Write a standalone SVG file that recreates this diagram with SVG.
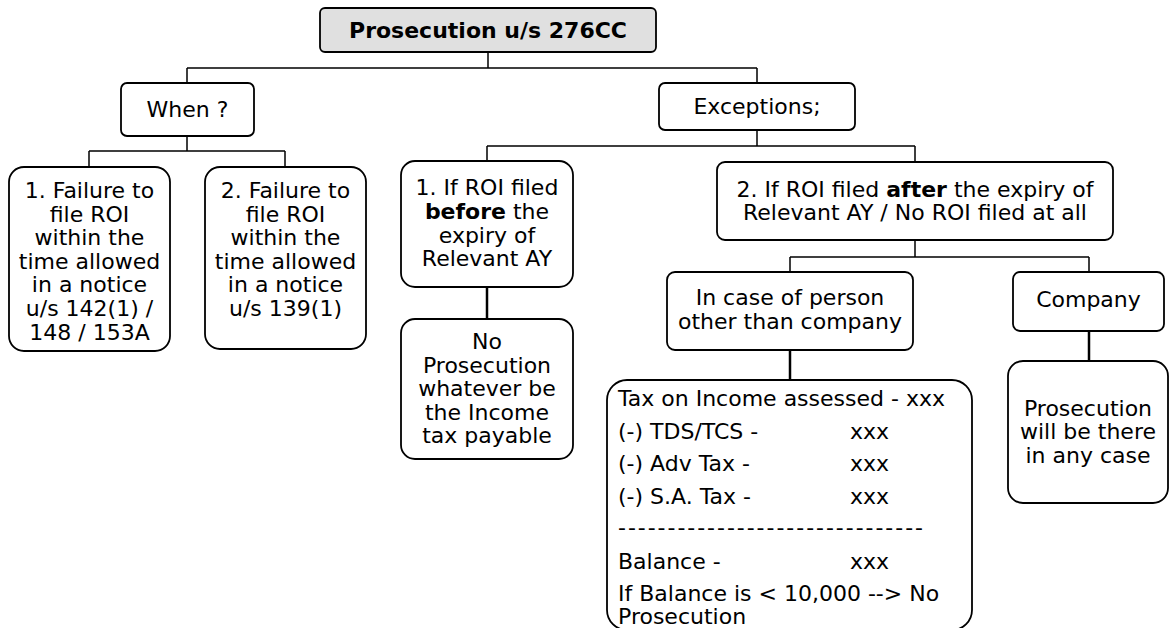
<svg xmlns="http://www.w3.org/2000/svg" width="1170" height="628" viewBox="0 0 1170 628">
<style>
.box{fill:#fff;stroke:#000;stroke-width:1.8}
.root{fill:#e0e0e0;stroke:#000;stroke-width:1.8}
.t{font-family:"DejaVu Sans",Verdana,sans-serif;font-size:22px;fill:#000;text-anchor:middle}
.l{font-family:"DejaVu Sans",Verdana,sans-serif;font-size:22px;fill:#000}
.b{font-weight:bold}
.c{fill:none;stroke:#000;stroke-width:1.5}
.ck{fill:none;stroke:#000;stroke-width:2.5}
</style>
<rect width="1170" height="628" fill="#fff"/>
<g id="connectors">
<path class="c" d="M488 52V68M187 68H757M187 68V83M757 68V83"/>
<path class="c" d="M187 136V151M89 151H285M89 151V167M285 151V167"/>
<path class="c" d="M757 130V146M487 146H915M487 146V161M915 146V162"/>
<path class="ck" d="M487 287V319"/>
<path class="c" d="M915 240V257M790 257H1089M790 257V272M1089 257V272"/>
<path class="ck" d="M790 350V380"/>
<path class="ck" d="M1089 331V361"/>
</g>
<g id="root">
<rect class="root" x="320" y="8" width="336" height="44" rx="5"/>
<text class="t b" x="488" y="38">Prosecution u/s 276CC</text>
</g>
<g id="when">
<rect class="box" x="121" y="83" width="133" height="53" rx="6"/>
<text class="t" x="187.5" y="117">When ?</text>
</g>
<g id="failure1">
<rect class="box" x="9" y="167" width="161" height="184" rx="15"/>
<text class="t" x="89.5" y="198">1. Failure to</text>
<text class="t" x="89.5" y="221.6">file ROI</text>
<text class="t" x="89.5" y="245.2">within the</text>
<text class="t" x="89.5" y="268.8">time allowed</text>
<text class="t" x="89.5" y="292.4">in a notice</text>
<text class="t" x="89.5" y="316">u/s 142(1) /</text>
<text class="t" x="89.5" y="339.6">148 / 153A</text>
</g>
<g id="failure2">
<rect class="box" x="205" y="167" width="161" height="182" rx="15"/>
<text class="t" x="285.5" y="198">2. Failure to</text>
<text class="t" x="285.5" y="221.6">file ROI</text>
<text class="t" x="285.5" y="245.2">within the</text>
<text class="t" x="285.5" y="268.8">time allowed</text>
<text class="t" x="285.5" y="292.4">in a notice</text>
<text class="t" x="285.5" y="316">u/s 139(1)</text>
</g>
<g id="exceptions">
<rect class="box" x="659" y="83" width="196" height="47" rx="6"/>
<text class="t" x="757" y="114">Exceptions;</text>
</g>
<g id="before">
<rect class="box" x="401" y="161" width="172" height="126" rx="14"/>
<text class="t" x="487" y="195">1. If ROI filed</text>
<text class="t" x="487" y="219"><tspan class="b">before</tspan> the</text>
<text class="t" x="487" y="242.6">expiry of</text>
<text class="t" x="487" y="266.2">Relevant AY</text>
</g>
<g id="noprosecution">
<rect class="box" x="401" y="319" width="172" height="140" rx="14"/>
<text class="t" x="487" y="349">No</text>
<text class="t" x="487" y="372.6">Prosecution</text>
<text class="t" x="487" y="396.2">whatever be</text>
<text class="t" x="487" y="419.8">the Income</text>
<text class="t" x="487" y="443.4">tax payable</text>
</g>
<g id="after">
<rect class="box" x="717" y="162" width="396" height="78" rx="8"/>
<text class="t" x="915" y="196.7">2. If ROI filed <tspan class="b">after</tspan> the expiry of</text>
<text class="t" x="915" y="220.3">Relevant AY / No ROI filed at all</text>
</g>
<g id="person">
<rect class="box" x="667" y="272" width="246" height="78" rx="8"/>
<text class="t" x="790" y="305">In case of person</text>
<text class="t" x="790" y="328.6">other than company</text>
</g>
<g id="company">
<rect class="box" x="1013" y="272" width="151" height="59" rx="7"/>
<text class="t" x="1088.5" y="306.5">Company</text>
</g>
<g id="companyprosecution">
<rect class="box" x="1008" y="361" width="160" height="142" rx="15"/>
<text class="t" x="1088" y="416">Prosecution</text>
<text class="t" x="1088" y="439.3">will be there</text>
<text class="t" x="1088" y="462.6">in any case</text>
</g>
<g id="calculation">
<rect class="box" x="607" y="380" width="365" height="250" rx="20"/>
<text class="l" x="618" y="406">Tax on Income assessed - xxx</text>
<text class="l" x="618" y="438.5">(-) TDS/TCS -</text><text class="l" x="850" y="438.5">xxx</text>
<text class="l" x="618" y="471">(-) Adv Tax -</text><text class="l" x="850" y="471">xxx</text>
<text class="l" x="618" y="503.5">(-) S.A. Tax -</text><text class="l" x="850" y="503.5">xxx</text>
<text class="l" x="618" y="535" textLength="305" lengthAdjust="spacing">-------------------------------</text>
<text class="l" x="618" y="569">Balance -</text><text class="l" x="850" y="569">xxx</text>
<text class="l" x="618" y="601">If Balance is &lt; 10,000 --&gt; No</text>
<text class="l" x="618" y="624">Prosecution</text>
</g>
</svg>
